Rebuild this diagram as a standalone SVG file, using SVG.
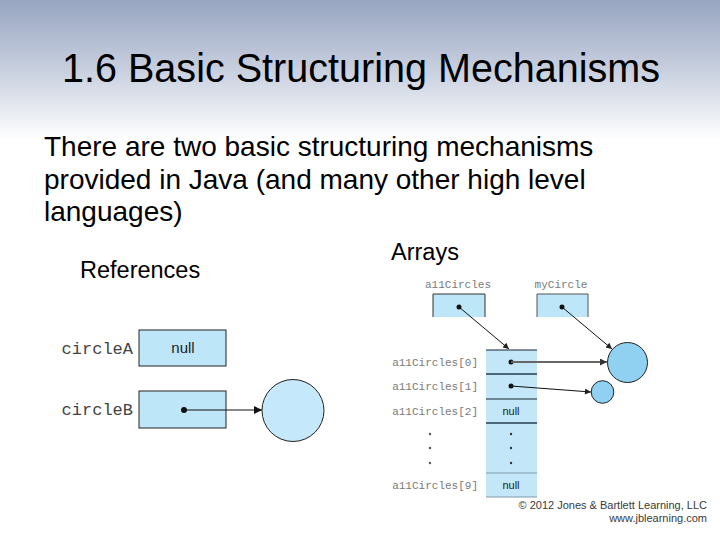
<svg xmlns="http://www.w3.org/2000/svg" width="720" height="540" viewBox="0 0 720 540">
<defs>
<linearGradient id="bg" x1="0" y1="0" x2="0" y2="1">
<stop offset="0" stop-color="#97a5c1"/>
<stop offset="0.55" stop-color="#cdd4e2"/>
<stop offset="1" stop-color="#ffffff"/>
</linearGradient>
<marker id="ah" viewBox="0 0 10 10" refX="10" refY="5" markerWidth="10" markerHeight="8" markerUnits="userSpaceOnUse" orient="auto">
<path d="M0,0 L10,5 L0,10 z" fill="#111"/>
</marker>
<marker id="ahs" viewBox="0 0 10 10" refX="10" refY="5" markerWidth="8" markerHeight="6" markerUnits="userSpaceOnUse" orient="auto">
<path d="M0,0 L10,5 L0,10 z" fill="#222"/>
</marker>
<marker id="ahg" viewBox="0 0 10 10" refX="10" refY="5" markerWidth="9" markerHeight="7" markerUnits="userSpaceOnUse" orient="auto">
<path d="M0,0 L10,5 L0,10 z" fill="#333"/>
</marker>
</defs>
<style>
.sans{font-family:"Liberation Sans",Arial,sans-serif;fill:#000}
.mono{font-family:"Liberation Mono","Courier New",monospace}
.refl{font-size:17px;fill:#444}
.arrl{font-size:11px;fill:#7a7a7a}
.box{fill:#bde6f9;stroke:#222;stroke-width:1}
.cell{fill:#c3e7f8}
.dot{fill:#111}
.conn{stroke:#111;stroke-width:1;fill:none}
.nul{font-family:"Liberation Sans",Arial,sans-serif;fill:#222}
</style>
<rect x="0" y="0" width="720" height="540" fill="#ffffff"/>
<rect x="0" y="0" width="720" height="140" fill="url(#bg)"/>

<text class="sans" x="62" y="82" font-size="41.5" textLength="598" lengthAdjust="spacingAndGlyphs">1.6 Basic Structuring Mechanisms</text>
<text class="sans" x="44" y="156" font-size="28">There are two basic structuring mechanisms</text>
<text class="sans" x="44" y="188.5" font-size="28">provided in Java (and many other high level</text>
<text class="sans" x="44" y="221" font-size="28">languages)</text>
<text class="sans" x="80" y="278" font-size="23.5">References</text>
<text class="sans" x="391" y="260" font-size="23.5">Arrays</text>

<!-- References diagram -->
<g id="circleA">
<text class="mono refl" x="133" y="354" text-anchor="end">circleA</text>
<rect class="box" x="139" y="330" width="87" height="36"/>
<text class="nul" x="183" y="353" font-size="15" text-anchor="middle">null</text>
</g>
<g id="circleB">
<text class="mono refl" x="133" y="415" text-anchor="end">circleB</text>
<rect class="box" x="139" y="391" width="87" height="37"/>
<circle class="dot" cx="184" cy="410" r="3"/>
</g>
<g id="refCircle">
<circle cx="293" cy="410.5" r="31" fill="#c5e9fa" stroke="#222" stroke-width="1"/>
</g>

<!-- Arrays diagram -->
<g id="allCircles">
<text class="mono arrl" x="458" y="288" text-anchor="middle">a11Circles</text>
<rect x="433" y="294" width="52" height="23" fill="#bde6f9"/>
<polyline points="433,317 433,294 485,294 485,317" fill="none" stroke="#333" stroke-width="1"/>
<circle class="dot" cx="459" cy="307" r="2.5"/>
</g>
<g id="myCircle">
<text class="mono arrl" x="561" y="288" text-anchor="middle">myCircle</text>
<rect x="537" y="294" width="51" height="23" fill="#bde6f9"/>
<polyline points="537,317 537,294 588,294 588,317" fill="none" stroke="#555" stroke-width="1"/>
<circle class="dot" cx="562" cy="307" r="2.5"/>
</g>
<g id="array">
<rect class="cell" x="486" y="350" width="51" height="147"/>
<line x1="486" y1="350" x2="537" y2="350" stroke="#1a2530" stroke-width="1.2"/>
<line x1="486" y1="374" x2="537" y2="374" stroke="#4d6878" stroke-width="2"/>
<line x1="486" y1="399" x2="537" y2="399" stroke="#1a2530" stroke-width="1.2"/>
<line x1="486" y1="423" x2="537" y2="423" stroke="#4d6878" stroke-width="2"/>
<line x1="486" y1="473" x2="537" y2="473" stroke="#7f98a8" stroke-width="1"/>
<line x1="486" y1="497" x2="537" y2="497" stroke="#7f98a8" stroke-width="1"/>
<text class="mono arrl" x="478" y="366" text-anchor="end">a11Circles[0]</text>
<text class="mono arrl" x="478" y="390" text-anchor="end">a11Circles[1]</text>
<text class="mono arrl" x="478" y="415" text-anchor="end">a11Circles[2]</text>
<text class="mono arrl" x="478" y="489" text-anchor="end">a11Circles[9]</text>
<circle cx="430" cy="434" r="1.2" fill="#555"/>
<circle cx="430" cy="448" r="1.2" fill="#555"/>
<circle cx="430" cy="463" r="1.2" fill="#555"/>
<circle class="dot" cx="511" cy="362" r="2.5"/>
<circle class="dot" cx="511" cy="386" r="2.5"/>
<text class="nul" x="511" y="415" font-size="11" text-anchor="middle">null</text>
<circle cx="511" cy="434" r="1.2" fill="#333"/>
<circle cx="511" cy="448" r="1.2" fill="#333"/>
<circle cx="511" cy="463" r="1.2" fill="#333"/>
<text class="nul" x="511" y="489" font-size="11" text-anchor="middle">null</text>
</g>
<g id="bigCircle">
<circle cx="627.5" cy="362.5" r="20" fill="#90d0f0" stroke="#222" stroke-width="1"/>
</g>
<g id="smallCircle">
<circle cx="602.5" cy="392" r="11.3" fill="#90d0f0" stroke="#222" stroke-width="1"/>
</g>

<g id="connectors">
<line class="conn" x1="184" y1="410" x2="262" y2="410" marker-end="url(#ah)"/>
<line class="conn" x1="459" y1="307" x2="509" y2="349" marker-end="url(#ahs)"/>
<line class="conn" x1="562" y1="307" x2="612" y2="349" marker-end="url(#ahs)"/>
<line x1="511" y1="362" x2="607" y2="362" stroke="#666" stroke-width="2" fill="none" marker-end="url(#ahg)"/>
<line class="conn" x1="511" y1="386" x2="591" y2="392" marker-end="url(#ahs)"/>
</g>

<text x="707" y="509" font-family="'Liberation Sans',Arial,sans-serif" font-size="11" fill="#3a3a3a" text-anchor="end">© 2012 Jones &amp; Bartlett Learning, LLC</text>
<text x="707" y="522" font-family="'Liberation Sans',Arial,sans-serif" font-size="11" fill="#3a3a3a" text-anchor="end">www.jblearning.com</text>
</svg>
